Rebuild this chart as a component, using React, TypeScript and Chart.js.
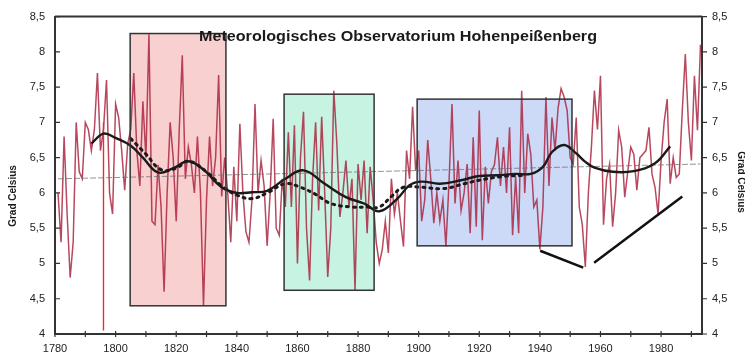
import React, { useEffect, useRef } from "react";
import { Chart, registerables } from "chart.js";

Chart.register(...registerables);

// ---- DATA ----
const firstYear = 1781;
// annual mean temperature (°C), 1781..1993
const annualTemps = [
  6.0, 5.3, 6.8, 5.7, 4.8, 5.3, 7.0, 6.3, 6.2, 7.0,
  6.9, 6.6, 6.9, 7.7, 6.6, 6.9, 7.6, 6.0, 5.7, 7.26,
  7.07, 6.6, 6.04, 6.7, 6.9, 7.7, 6.6, 6.1, 7.3, 6.5,
  8.25, 5.6, 5.55, 6.4, 5.8, 4.6, 6.0, 7.0, 6.5, 5.6,
  6.9, 7.95, 6.2, 6.65, 6.4, 6.0, 6.8, 6.0, 4.4, 5.9,
  6.8, 6.1, 6.5, 7.67, 5.95, 6.5, 6.0, 5.3, 6.37, 5.6,
  6.98, 6.0, 5.45, 5.3, 5.9, 7.26, 6.0, 6.46, 6.1, 5.25,
  6.0, 7.05, 5.5, 5.4, 6.2, 5.8, 6.86, 5.8, 6.96, 5.0,
  6.5, 7.15, 5.5, 4.76, 6.2, 7.0, 5.75, 7.08, 6.0, 4.81,
  5.5, 7.45, 6.7, 5.66, 6.0, 6.46, 5.8, 6.2, 4.62, 6.41,
  5.9, 6.46, 5.43, 6.37, 5.9, 5.3, 5.0, 5.2, 5.6, 5.15,
  6.2, 5.7, 6.0, 5.6, 5.24, 6.6, 6.2, 7.22, 6.32, 6.6,
  5.6, 5.9, 6.75, 6.2, 5.57, 6.0, 5.6, 5.9, 5.24, 6.13,
  7.26, 5.85, 6.46, 5.75, 6.0, 6.41, 5.43, 6.79, 5.52, 7.17,
  5.33, 6.37, 5.85, 6.3, 6.4, 6.79, 6.1, 6.65, 6.0, 6.93,
  5.4, 6.23, 5.43, 7.45, 6.0, 6.84, 6.55, 5.8, 5.9, 5.2,
  5.8, 7.36, 6.1, 7.07, 6.6, 7.2, 7.48, 7.36, 7.17, 6.5,
  6.41, 7.07, 5.8, 5.55, 4.95, 6.0, 6.65, 7.45, 6.9, 7.66,
  5.55, 6.2, 6.41, 5.52, 6.0, 6.89, 6.65, 5.94, 6.3, 6.65,
  6.55, 6.04, 6.5, 6.55, 6.6, 6.93, 6.27, 6.08, 5.7, 6.46,
  7.0, 7.33, 6.13, 6.5, 6.22, 6.27, 7.17, 7.97, 7.0, 6.46,
  7.66, 6.89, 8.1,
];

// smoothed curve (solid black)
const smoothYears = [1792, 1796, 1800, 1805, 1809, 1814, 1819, 1824, 1829, 1835, 1840, 1845, 1850, 1856, 1862, 1869, 1876, 1882, 1887, 1893, 1897, 1901, 1907, 1914, 1920, 1926, 1932, 1937, 1941, 1944, 1948, 1952, 1955, 1958, 1964, 1971, 1978, 1983];
const smoothValues = [6.7, 6.84, 6.78, 6.67, 6.5, 6.29, 6.35, 6.45, 6.33, 6.08, 6.0, 6.01, 6.03, 6.2, 6.32, 6.13, 5.94, 5.85, 5.74, 5.92, 6.11, 6.16, 6.13, 6.18, 6.24, 6.25, 6.27, 6.27, 6.37, 6.58, 6.68, 6.56, 6.44, 6.36, 6.3, 6.31, 6.42, 6.66];

// second smoothed curve (dotted black)
const dottedYears = [1805, 1810, 1815, 1820, 1824, 1830, 1835, 1840, 1845, 1850, 1856, 1861, 1866, 1871, 1878, 1883, 1887, 1891, 1895, 1901, 1908, 1915, 1920, 1927, 1935];
const dottedValues = [6.77, 6.55, 6.33, 6.35, 6.45, 6.3, 6.1, 5.97, 5.92, 6.0, 6.13, 6.08, 5.98, 5.85, 5.8, 5.8, 5.8, 5.95, 6.08, 6.08, 6.06, 6.13, 6.18, 6.23, 6.25];

// linear trend (thin grey)
const trendYears = [1781, 1993];
const trendValues = [6.2, 6.41];

// outlier spike 1796
const spikeYears = [1796, 1796];
const spikeValues = [7.0, 4.05];

// hand-drawn black segments
const segment1Years = [1940.1, 1954.3];
const segment1Values = [5.18, 4.94];
const segment2Years = [1957.9, 1987];
const segment2Values = [5.01, 5.95];

// highlighted boxes: [yearFrom, yearTo, tempLow, tempHigh]
const pinkBox = [1804.8, 1836.4, 4.4, 8.26];
const greenBox = [1855.6, 1885.3, 4.62, 7.4];
const blueBox = [1899.5, 1950.6, 5.25, 7.33];

const yTicks = [4, 4.5, 5, 5.5, 6, 6.5, 7, 7.5, 8, 8.5];
const titleText = "Meteorologisches Observatorium Hohenpeißenberg";
const axisTitle = "Grad Celsius";

const FONT = '"Liberation Sans", Arial, sans-serif';

const toPoints = (xs: number[], ys: number[]) => xs.map((x, i) => ({ x, y: ys[i] }));

export default function App() {
  const ref = useRef<HTMLCanvasElement | null>(null);

  useEffect(() => {
    const canvas = ref.current;
    if (!canvas) return;

    const annualPoints = annualTemps.map((v, i) => ({ x: firstYear + i, y: v }));

    const boxes = [
      { b: pinkBox, fill: "rgb(249,208,208)" },
      { b: greenBox, fill: "rgb(198,243,226)" },
      { b: blueBox, fill: "rgb(205,218,247)" },
    ];

    const decor = {
      id: "decor",
      beforeDatasetsDraw(chart: any) {
        const { ctx, scales } = chart;
        const xs = scales.x, ys = scales.y;
        ctx.save();
        boxes.forEach(({ b, fill }) => {
          const x0 = xs.getPixelForValue(b[0]);
          const x1 = xs.getPixelForValue(b[1]);
          const y0 = ys.getPixelForValue(b[3]);
          const y1 = ys.getPixelForValue(b[2]);
          ctx.fillStyle = fill;
          ctx.fillRect(x0, y0, x1 - x0, y1 - y0);
        });
        ctx.restore();
      },
      afterDatasetsDraw(chart: any) {
        const { ctx, scales } = chart;
        const xs = scales.x, ys = scales.y;
        ctx.save();
        ctx.strokeStyle = "#333";
        ctx.lineWidth = 1.5;
        boxes.forEach(({ b }) => {
          const x0 = xs.getPixelForValue(b[0]);
          const x1 = xs.getPixelForValue(b[1]);
          const y0 = ys.getPixelForValue(b[3]);
          const y1 = ys.getPixelForValue(b[2]);
          ctx.strokeRect(x0, y0, x1 - x0, y1 - y0);
        });
        ctx.restore();
      },
      afterDraw(chart: any) {
        const { ctx, chartArea, scales } = chart;
        const { left, right, top, bottom } = chartArea;
        ctx.save();
        ctx.strokeStyle = "#333";
        ctx.lineWidth = 2;
        ctx.beginPath();
        ctx.moveTo(left, top);
        ctx.lineTo(right, top);
        ctx.stroke();
        ctx.lineWidth = 1.2;
        yTicks.forEach((t) => {
          const py = scales.y.getPixelForValue(t);
          ctx.beginPath();
          ctx.moveTo(left, py);
          ctx.lineTo(left + 5, py);
          ctx.moveTo(right, py);
          ctx.lineTo(right + 5, py);
          ctx.stroke();
        });
        scales.x.ticks.forEach((t: any) => {
          const px = scales.x.getPixelForValue(t.value);
          ctx.beginPath();
          ctx.moveTo(px, bottom - 3);
          ctx.lineTo(px, bottom + 3);
          ctx.stroke();
        });
        ctx.fillStyle = "#1a1a1a";
        ctx.font = `bold 14px ${FONT}`;
        ctx.textBaseline = "middle";
        ctx.textAlign = "left";
        const w = ctx.measureText(titleText).width;
        const targetW = 398;
        ctx.save();
        ctx.translate(199, 37);
        ctx.scale(targetW / w, 1);
        ctx.fillText(titleText, 0, 0);
        ctx.restore();
        ctx.font = `bold 10px ${FONT}`;
        ctx.textAlign = "center";
        ctx.save();
        ctx.translate(13, 196);
        ctx.rotate(-Math.PI / 2);
        ctx.fillText(axisTitle, 0, 0);
        ctx.restore();
        ctx.save();
        ctx.translate(741, 182);
        ctx.rotate(Math.PI / 2);
        ctx.fillText(axisTitle, 0, 0);
        ctx.restore();
        ctx.restore();
      },
    };

    const chart = new Chart(canvas, {
      type: "line",
      data: {
        datasets: [
          {
            label: "Jahresmittel",
            data: annualPoints,
            borderColor: "rgba(168,32,58,0.82)",
            borderWidth: 1.5,
            pointRadius: 0,
            tension: 0,
            yAxisID: "y",
            order: 6,
          },
          {
            label: "Ausreißer",
            data: toPoints(spikeYears, spikeValues),
            borderColor: "rgb(232,45,45)",
            borderWidth: 1.4,
            pointRadius: 0,
            yAxisID: "y",
            order: 5,
          },
          {
            label: "Trend",
            data: toPoints(trendYears, trendValues),
            borderColor: "rgba(110,110,110,0.75)",
            borderWidth: 1,
            borderDash: [6, 2],
            pointRadius: 0,
            yAxisID: "y",
            order: 4,
          },
          {
            label: "Glättung 2",
            data: toPoints(dottedYears, dottedValues),
            borderColor: "#1a1a1a",
            borderWidth: 3,
            borderDash: [2, 5],
            borderCapStyle: "round",
            pointRadius: 0,
            tension: 0.4,
            yAxisID: "y",
            order: 3,
          },
          {
            label: "Glättung",
            data: toPoints(smoothYears, smoothValues),
            borderColor: "#1a1a1a",
            borderWidth: 2.4,
            pointRadius: 0,
            tension: 0.4,
            yAxisID: "y",
            order: 2,
          },
          {
            label: "Linie 1",
            data: toPoints(segment1Years, segment1Values),
            borderColor: "#111",
            borderWidth: 2.5,
            pointRadius: 0,
            yAxisID: "y",
            order: 1,
          },
          {
            label: "Linie 2",
            data: toPoints(segment2Years, segment2Values),
            borderColor: "#111",
            borderWidth: 2.5,
            pointRadius: 0,
            yAxisID: "y",
            order: 0,
          },
        ],
      },
      options: {
        responsive: false,
        maintainAspectRatio: false,
        animation: false,
        devicePixelRatio: 1,
        layout: { padding: { top: 16, left: 0, right: 0, bottom: 0 } },
        plugins: {
          legend: { display: false },
          tooltip: { enabled: false },
          title: { display: false },
        },
        scales: {
          x: {
            type: "linear",
            min: 1780,
            max: 1993.5,
            border: { display: true, color: "#333", width: 2 },
            grid: { display: false, drawTicks: false },
            ticks: {
              stepSize: 10,
              includeBounds: false,
              autoSkip: false,
              maxRotation: 0,
              padding: 8,
              color: "#222",
              font: { family: FONT, size: 11 },
              callback: (v: any) => (Number(v) % 20 === 0 ? String(v) : ""),
            },
            afterFit: (s: any) => {
              s.height = 24;
            },
          },
          y: {
            type: "linear",
            position: "left",
            min: 4,
            max: 8.5,
            border: { display: true, color: "#333", width: 2 },
            grid: { display: false, drawTicks: false },
            ticks: {
              stepSize: 0.5,
              padding: 10,
              color: "#222",
              font: { family: FONT, size: 11 },
              callback: (v: any) => String(v).replace(".", ","),
            },
            afterFit: (s: any) => {
              s.width = 55;
            },
          },
          y2: {
            type: "linear",
            position: "right",
            min: 4,
            max: 8.5,
            border: { display: true, color: "#333", width: 2 },
            grid: { display: false, drawTicks: false },
            ticks: {
              stepSize: 0.5,
              padding: 10,
              color: "#222",
              font: { family: FONT, size: 11 },
              callback: (v: any) => String(v).replace(".", ","),
            },
            afterFit: (s: any) => {
              s.width = 43;
            },
          },
        },
      },
      plugins: [decor],
    } as any);

    return () => chart.destroy();
  }, []);

  return (
    <div style={{ position: "fixed", left: 0, top: 0, width: 745, height: 358, background: "#fff" }}>
      <canvas ref={ref} width={745} height={358} style={{ display: "block" }} />
    </div>
  );
}
